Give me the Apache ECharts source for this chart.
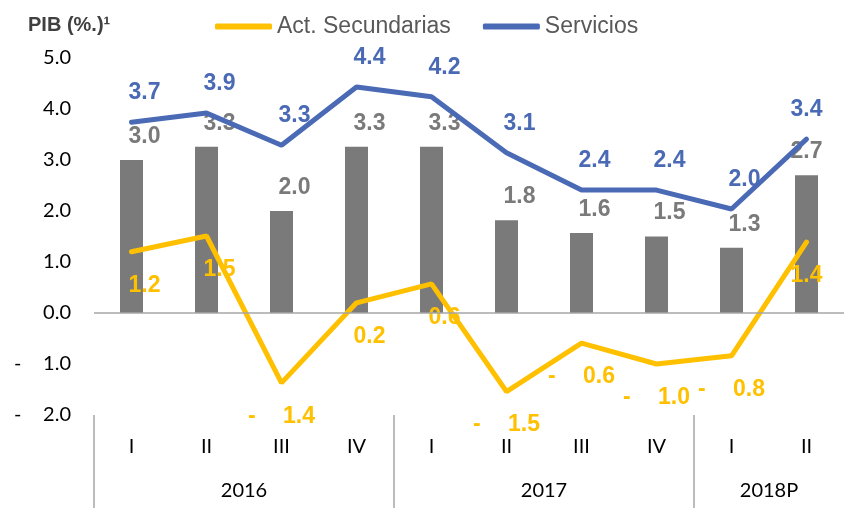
<!DOCTYPE html>
<html>
<head>
<meta charset="utf-8">
<script src="https://cdn.jsdelivr.net/npm/echarts@6/dist/echarts.min.js"></script>
<style>html,body{margin:0;padding:0;background:#fff}#c{width:844px;height:508px}</style>
</head>
<body>
<div id="c"></div>
<script>
// ---- data ----
var quarters = ['I','II','III','IV','I','II','III','IV','I','II'];
var years = ['2016','2017','2018P'];
var yearCenters = [2, 6, 9];      // centre of each year group (in quarter units)
var yearBounds = [0, 4, 8];       // separators between year groups
var pib = [3.0, 3.26, 2.0, 3.26, 3.26, 1.82, 1.57, 1.5, 1.28, 2.7];
var secundarias = [1.2, 1.51, -1.37, 0.2, 0.57, -1.54, -0.59, -1.0, -0.84, 1.39];
var servicios = [3.74, 3.92, 3.29, 4.43, 4.24, 3.14, 2.41, 2.41, 2.04, 3.41];

var YEL = '#FFC000', BLU = '#4A6AB5', GRY = '#7A7A7A';
var LBL = 'Liberation Sans', AX = 'Lato';

function lab(v){
  var s = Math.abs(v).toFixed(1);
  return v < 0 ? '{d|-}{n|' + s + '}' : '{n|' + s + '}';
}
function items(arr){
  return arr.map(function(v, i){
    var off = (i === arr.length - 1 || v < 0) ? [0, 0] : [13, 0];
    return {value: v, label: {offset: off}};
  });
}
function rich(color){
  return {
    d: {width: 35, align: 'left', color: color, fontSize: 23, fontWeight: 'bold', fontFamily: LBL},
    n: {color: color, fontSize: 23, fontWeight: 'bold', fontFamily: LBL}
  };
}

var chart = echarts.init(document.getElementById('c'), null, {renderer: 'canvas'});
chart.setOption({
  animation: false,
  title: {
    text: 'PIB (%.)\u00B9', left: 23, top: 10,
    textStyle: {fontSize: 20, fontWeight: 'bold', color: '#404040', fontFamily: LBL}
  },
  legend: {
    data: ['Act. Secundarias', 'Servicios'],
    left: 210, top: 10, itemWidth: 57, itemHeight: 6, itemGap: 32,
    icon: 'roundRect',
    textStyle: {fontSize: 23, color: '#595959', fontFamily: LBL}
  },
  grid: {left: 94, right: -2, top: 58, bottom: 93, containLabel: false},
  xAxis: [
    {
      type: 'category', data: quarters, position: 'bottom',
      axisLine: {show: false, onZero: false}, axisTick: {show: false},
      axisLabel: {margin: 22, fontSize: 20, color: '#000', fontFamily: AX}
    },
    {
      type: 'value', min: 0, max: 10, position: 'bottom',
      axisLine: {show: false, onZero: false}, splitLine: {show: false},
      axisTick: {show: true, customValues: yearBounds, length: 95, lineStyle: {color: '#A6A6A6', width: 1.5}},
      axisLabel: {
        customValues: yearCenters, margin: 66, fontSize: 20, color: '#000', fontFamily: AX,
        formatter: function(v){ var i = yearCenters.indexOf(v); return i >= 0 ? years[i] : ''; }
      }
    }
  ],
  yAxis: {
    type: 'value', min: -2, max: 5, interval: 1,
    axisLine: {show: false}, axisTick: {show: false}, splitLine: {show: false},
    axisLabel: {
      margin: 23, fontSize: 20, color: '#000', fontFamily: AX,
      formatter: function(v){
        var s = Math.abs(v).toFixed(1);
        return v < 0 ? '{d|-}{n|' + s + '}' : '{n|' + s + '}';
      },
      rich: {
        d: {width: 29, align: 'left', fontSize: 20, color: '#000', fontFamily: AX},
        n: {fontSize: 20, color: '#000', fontFamily: AX}
      }
    }
  },
  series: [
    {
      name: 'PIB', type: 'bar', data: items(pib), barWidth: 23,
      itemStyle: {color: GRY},
      label: {show: true, position: 'top', distance: 12, formatter: function(p){ return lab(p.value); }, rich: rich(GRY)},
      markLine: {
        silent: true, symbol: 'none', label: {show: false},
        lineStyle: {color: '#A6A6A6', width: 1.5, type: 'solid'},
        data: [{yAxis: 0}]
      },
      z: 2
    },
    {
      name: 'Act. Secundarias', type: 'line', data: items(secundarias),
      symbol: 'circle', symbolSize: 0, showSymbol: true,
      lineStyle: {color: YEL, width: 5, cap: 'round'}, itemStyle: {color: YEL},
      label: {show: true, position: 'bottom', distance: 22, formatter: function(p){ return lab(p.value); }, rich: rich(YEL)},
      z: 3
    },
    {
      name: 'Servicios', type: 'line', data: items(servicios),
      symbol: 'circle', symbolSize: 0, showSymbol: true,
      lineStyle: {color: BLU, width: 5, cap: 'round'}, itemStyle: {color: BLU},
      label: {show: true, position: 'top', distance: 18, formatter: function(p){ return lab(p.value); }, rich: rich(BLU)},
      z: 3
    }
  ]
});
</script>
</body>
</html>
